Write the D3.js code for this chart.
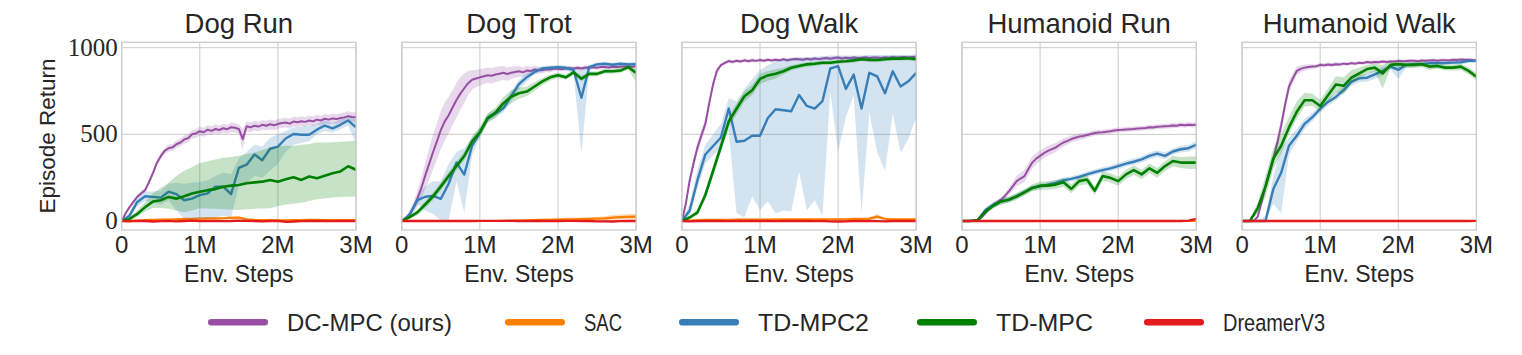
<!DOCTYPE html>
<html><head><meta charset="utf-8">
<script src="https://cdn.jsdelivr.net/npm/d3@7"></script>
<style>body{margin:0;background:#fff} svg{display:block}</style>
</head><body><svg id="c" width="1522" height="355"></svg>
<script>
// ---------------- DATA ----------------
const panels = ["Dog Run","Dog Trot","Dog Walk","Humanoid Run","Humanoid Walk"];
const methods = ["DC-MPC (ours)","SAC","TD-MPC2","TD-MPC","DreamerV3"];
const xTicks = [0,1,2,3];
const xTickLabels = ["0","1M","2M","3M"];
const yTicks = [0,500,1000];
const yTickLabels = ["0","500","1000"];
// env steps (millions)
const stepsCoarse = [0,0.1,0.2,0.3,0.4,0.5,0.6,0.7,0.8,0.9,1.0,1.1,1.2,1.3,1.4,1.5,1.6,1.7,1.8,1.9,2.0,2.1,2.2,2.3,2.4,2.5,2.6,2.7,2.8,2.9,3.0];
const stepsDense = [0,0.05,0.1,0.15,0.2,0.25,0.3,0.35,0.4,0.45,0.5,0.55,0.6,0.65,0.7,0.75,0.8,0.85,0.9,0.95,1.0,1.05,1.1,1.15,1.2,1.25,1.3,1.35,1.4,1.45,1.5,1.55,1.6,1.65,1.7,1.75,1.8,1.85,1.9,1.95,2.0,2.05,2.1,2.15,2.2,2.25,2.3,2.35,2.4,2.45,2.5,2.55,2.6,2.65,2.7,2.75,2.8,2.85,2.9,2.95,3.0];

// DC-MPC (dense)
const dcmpcMean = [
 [0,45,80,110,140,160,178,225,276,335, 374,405,420,425,443,452,470,478,500,505, 518,512,527,520,531,525,535,530,541,538, 531,472,547,540,550,545,555,550,558,552, 560,565,568,562,574,570,576,572,580,575, 585,580,590,585,592,588,594,598,605,600, 598],
 [0,15,41,80,130,190,262,330,397,460, 525,575,610,655,698,735,766,795,815,822, 829,835,841,838,845,850,855,848,855,860, 864,858,868,865,874,870,870,875,874,878, 878,875,880,882,880,884,880,886,884,887, 885,888,888,886,890,888,890,892,893,890, 894],
 [0,100,235,335,425,495,560,680,790,868, 900,912,923,918,925,920,927,922,928,924, 929,925,930,926,931,927,933,928,932,935, 933,930,936,932,938,934,938,940,936,941, 943,938,942,939,944,940,942,945,941,944, 943,940,945,942,946,943,945,947,944,946, 947],
 [0,0,0,0,0,22,45,70,93,108, 123,145,171,200,230,245,259,300,337,360, 376,392,405,415,424,440,453,462,473,480, 487,490,496,502,508,510,512,515,518,522, 525,526,528,530,531,534,535,537,541,540, 544,545,547,548,551,550,555,553,556,554, 555],
 [0,0,0,0,25,110,200,280,356,450, 551,670,775,823,866,878,885,888,891,893, 901,898,903,900,905,903,908,906,911,908, 913,911,917,914,918,916,920,918,921,920, 924,922,923,925,924,922,926,925,926,927, 925,928,928,926,930,929,932,930,931,929, 928]
];
const dcmpcSpread = [
 [0,6,8,10,10,12,12,14,15,16, 18,18,20,20,22,22,24,24,25,25, 26,26,26,25,26,25,26,26,28,28, 28,60,28,28,28,28,28,28,28,28, 28,28,28,28,28,28,28,28,28,28, 28,28,28,28,28,28,28,28,28,28, 28],
 [0,10,20,30,45,60,75,90,100,105, 110,110,105,100,100,95,85,70,55,50, 48,45,45,45,45,42,40,38,35,32, 30,28,26,25,22,20,18,16,15,14, 12,12,12,12,12,12,12,12,12,12, 12,12,12,12,12,12,12,12,12,12, 14],
 [0,15,25,30,30,30,30,30,25,18, 12,10,10,10,10,10,10,10,10,10, 10,10,10,10,10,10,10,10,10,10, 10,10,10,10,10,10,10,10,10,10, 10,10,10,10,10,10,10,10,10,10, 10,10,10,10,10,10,10,10,10,10, 20],
 [0,0,0,0,0,5,8,10,12,14, 16,18,20,25,30,32,35,35,35,32, 30,30,28,28,26,25,24,22,20,20, 18,18,16,16,15,15,15,15,15,15, 14,14,14,14,14,14,14,14,14,14, 14,14,14,14,14,14,14,14,14,14, 14],
 [0,0,0,0,8,20,30,35,40,40, 40,38,35,30,25,20,18,15,14,12, 12,12,12,12,12,10,10,10,10,10, 10,10,10,10,10,10,10,10,10,10, 10,10,10,10,10,10,10,10,10,10, 10,10,10,10,10,10,10,10,10,10, 10]
];

// SAC
const sacMean = [
 [0,2,3,5,6,8,8,10,12,12, 14,15,15,16,18,20,10,6,5,5, 4,4,5,5,6,6,5,5,5,5, 5],
 [0,0,0,0,0,0,0,0,0,0, 0,0,0,1,2,3,4,5,6,7, 8,9,10,11,12,14,15,20,22,24, 25],
 [0,3,5,6,6,7,7,8,8,8, 8,8,9,9,9,10,10,10,10,10, 10,10,12,12,14,25,12,10,10,10, 10],
 [0,0,0,0,0,0,0,0,0,0, 0,0,0,0,0,0,0,0,0,0, 0,0,0,0,0,0,0,0,0,0, 0],
 [0,0,0,0,0,0,0,0,0,0, 0,0,0,0,0,0,0,0,0,0, 0,0,0,0,0,0,0,0,0,0, 0]
];
const sacSpread = [
 [0,2,3,3,4,4,4,5,5,5, 6,6,6,7,8,8,5,4,3,3, 3,3,3,3,3,3,3,3,3,3, 3],
 [0,0,0,0,0,0,0,0,0,0, 1,1,1,2,3,4,5,6,7,8, 9,10,10,10,10,11,12,14,15,16, 16],
 [0,2,2,3,3,3,3,3,3,3, 3,3,3,3,3,4,4,4,4,4, 4,4,4,5,6,15,5,4,4,4, 4],
 [0,0,0,0,0,0,0,0,0,0, 0,0,0,0,0,0,0,0,0,0, 0,0,0,0,0,0,0,0,0,0, 0],
 [0,0,0,0,0,0,0,0,0,0, 0,0,0,0,0,0,0,0,0,0, 0,0,0,0,0,0,0,0,0,0, 0]
];

// TD-MPC2
const tdmpc2Mean = [
 [0,31,110,143,139,135,169,155,120,129, 149,159,198,198,155,306,325,384,351,417, 429,476,502,498,498,527,551,535,555,580, 541],
 [0,35,120,140,145,128,215,337,268,434, 510,590,620,650,720,790,830,860,880,884, 888,884,870,711,888,904,907,902,907,904, 905],
 [0,61,237,384,433,482,649,457,463,492, 492,594,645,639,633,727,664,649,692,880, 894,762,845,649,855,835,737,864,776,806, 855],
 [0,0,5,64,93,113,123,142,167,191, 200,210,220,235,243,255,269,282,294,304, 317,331,342,356,376,389,376,401,414,420, 440],
 [0,0,0,0,185,278,434,492,560,599, 648,687,716,755,804,823,827,846,866,891, 872,901,905,905,911,911,911,914,916,924, 924]
];
const tdmpc2Lo = [
 [0,15,85,115,105,95,120,60,15,10, 15,15,20,30,20,200,220,260,250,290, 330,400,440,450,460,500,520,510,530,550, 450],
 [0,20,95,60,40,5,6,230,50,380, 480,565,600,625,690,760,805,845,868,870, 875,868,850,390,875,892,895,888,895,890, 893],
 [0,30,190,330,380,420,520,45,22,142, 64,113,45,60,55,286,60,120,30,745, 400,600,726,45,628,400,288,619,395,473, 600],
 [0,0,0,45,75,95,108,128,152,176, 186,196,206,220,228,240,254,266,278,288, 300,313,324,338,357,370,358,382,395,400, 420],
 [0,0,0,0,100,45,380,460,530,575, 625,665,695,735,780,800,805,820,840,875, 820,885,890,890,895,898,900,903,905,912, 912]
];
const tdmpc2Hi = [
 [0,50,135,170,170,175,215,220,215,220, 225,235,260,280,270,360,400,440,430,480, 500,520,540,545,550,560,580,565,585,600, 590],
 [0,50,145,200,230,230,330,400,420,480, 545,620,645,680,750,815,855,880,895,898, 900,898,888,870,900,916,918,915,918,916, 918],
 [0,100,300,440,500,560,710,690,760,820, 870,900,920,935,940,945,945,948,950,955, 955,955,955,955,958,958,958,958,958,958, 958],
 [0,0,12,80,110,130,140,158,183,207, 215,225,235,250,258,270,285,298,310,320, 334,349,360,374,395,408,395,420,433,440, 460],
 [0,0,0,30,260,420,480,530,590,625, 670,710,740,780,830,845,850,870,890,905, 895,915,918,918,922,922,922,925,928,935, 935]
];

// TD-MPC
const tdmpcMean = [
 [0,12,41,80,112,120,139,129,143,159, 169,178,184,198,204,208,218,223,227,237, 227,241,253,237,257,247,261,276,286,316, 296],
 [0,22,50,95,142,200,259,317,375,460, 512,595,625,680,717,737,747,776,806,829, 841,829,858,821,849,849,864,864,868,888, 855],
 [0,20,50,150,290,430,575,648,720,755, 820,840,850,864,884,894,904,907,913,913, 919,922,927,933,930,929,933,937,937,939, 933],
 [0,0,5,54,88,113,123,142,165,191, 204,204,210,224,185,230,239,175,259,249, 230,269,294,269,304,278,317,346,337,337, 337],
 [0,0,74,200,360,434,540,630,697,697, 664,726,788,780,827,852,877,885,852,901, 905,901,901,905,891,895,885,885,891,866, 833]
];
const tdmpcLo = [
 [0,5,25,55,75,75,70,60,50,60, 74,72,70,68,66,64,68,70,72,74, 85,95,100,105,115,125,130,135,138,140, 142],
 [0,12,35,75,120,178,235,290,350,430, 485,570,595,645,680,705,720,750,785,810, 825,815,845,805,835,835,850,850,855,875, 800],
 [0,12,35,125,260,400,545,615,690,725, 790,810,822,845,868,880,890,895,900,902, 908,912,915,922,918,916,922,926,926,928, 922],
 [0,0,0,40,72,95,105,122,145,170, 180,180,185,198,160,204,212,150,232,222, 204,242,266,242,276,250,288,316,306,300, 300],
 [0,0,40,140,300,390,500,590,660,665, 630,690,740,735,790,820,850,860,765,880, 885,882,882,888,872,878,868,868,872,846, 810]
];
const tdmpcHi = [
 [0,20,60,110,160,190,220,260,290,310, 335,345,355,365,370,376,385,395,410,424, 430,434,434,440,445,453,453,455,458,460, 463],
 [0,32,65,115,165,222,283,345,400,490, 540,620,655,715,755,770,775,800,825,845, 857,845,870,838,862,862,878,878,882,900, 880],
 [0,30,65,175,320,460,605,680,750,785, 850,865,875,884,900,908,916,920,925,925, 930,932,938,944,942,940,944,948,948,950, 944],
 [0,0,12,68,104,130,141,162,185,212, 228,228,236,250,210,256,266,200,286,276, 256,296,322,296,332,306,346,376,368,372, 372],
 [0,0,110,260,420,500,600,690,740,735, 700,765,835,830,870,885,902,908,900,920, 922,918,918,922,908,912,902,902,908,886, 855]
];

// DreamerV3
const dreamerMean = [
 [0,-2,1,0,-3,-1,1,-2,0,2, 0,1,0,-1,0,2,1,0,-2,0, 1,-4,-3,-1,0,1,0,-1,0,0, -1],
 [0,0,0,0,0,0,0,0,0,0, 1,1,1,1,1,0,0,0,0,0, 0,1,1,0,0,-2,-2,-3,-1,0, 0],
 [0,-2,-1,0,1,0,-1,0,0,1, 0,0,-1,0,1,0,0,-1,0,-2, -3,-2,0,1,0,-1,-2,0,0,1, 0],
 [0,0,0,0,0,0,0,0,0,0, 0,0,0,0,0,0,0,0,0,0, 0,0,0,0,0,0,0,0,0,2, 12],
 [0,0,0,0,0,0,0,0,0,0, 0,0,0,0,0,0,0,0,0,0, 0,0,0,0,0,0,0,0,0,0, 1]
];
const dreamerSpread = [
 [0,3,3,3,3,3,3,3,3,3, 3,3,3,3,3,3,3,3,3,3, 3,3,3,3,3,3,3,3,3,3, 3],
 [0,1,1,1,1,1,1,1,1,1, 1,1,1,1,1,1,1,1,1,1, 1,1,1,1,1,2,2,2,2,2, 2],
 [0,2,2,2,2,2,2,2,2,2, 2,2,2,2,2,2,2,2,2,2, 2,2,2,2,2,2,2,2,2,2, 2],
 [0,0,0,0,0,0,0,0,0,0, 0,0,0,0,0,0,0,0,0,0, 0,0,0,0,0,0,0,0,0,2, 5],
 [0,0,0,0,0,0,0,0,0,0, 0,0,0,0,0,0,0,0,0,0, 0,0,0,0,0,0,0,0,0,0, 1]
];

// ---------------- STYLE ----------------
const colors = ["#984ea3","#ff7f00","#377eb8","#008000","#e41a1c"];
const lineWidths = [2, 2.2, 2.4, 2.6, 2.4];
const bandOpacity = [0.22, 0.28, 0.22, 0.22, 0.25];
const textColor = "#262626";
const gridColor = "#cccccc";

// ---------------- DRAW ----------------
const svg = d3.select("#c");
svg.append("rect").attr("width",1522).attr("height",355).attr("fill","#fff");

const panelBand = d3.scaleBand().domain(panels).range([121.7, 121.7 + 280.1*5]).paddingInner(0).paddingOuter(0);
const pw = 234.3, plotTop = 42.3, plotBottom = 230;

function buildSeries(pi){
  return [
    {x: stepsDense, m: dcmpcMean[pi], lo: dcmpcMean[pi].map((v,i)=>v-dcmpcSpread[pi][i]), hi: dcmpcMean[pi].map((v,i)=>v+dcmpcSpread[pi][i])},
    {x: stepsCoarse, m: sacMean[pi], lo: sacMean[pi].map((v,i)=>v-sacSpread[pi][i]), hi: sacMean[pi].map((v,i)=>v+sacSpread[pi][i])},
    {x: stepsCoarse, m: tdmpc2Mean[pi], lo: tdmpc2Lo[pi], hi: tdmpc2Hi[pi]},
    {x: stepsCoarse, m: tdmpcMean[pi], lo: tdmpcLo[pi], hi: tdmpcHi[pi]},
    {x: stepsCoarse, m: dreamerMean[pi], lo: dreamerMean[pi].map((v,i)=>v-dreamerSpread[pi][i]), hi: dreamerMean[pi].map((v,i)=>v+dreamerSpread[pi][i])}
  ];
}

panels.forEach((name, pi) => {
  const left = panelBand(name);
  const x = d3.scaleLinear().domain([0,3]).range([left, left+pw]);
  const y = d3.scaleLinear().domain([0,1000]).range([221, 47.7]);
  const g = svg.append("g");

  const cid = "clip"+pi;
  svg.append("clipPath").attr("id",cid).append("rect")
    .attr("x",left).attr("y",plotTop).attr("width",pw).attr("height",plotBottom-plotTop);

  // grid
  g.selectAll(".gy").data(yTicks).join("line")
    .attr("x1",left).attr("x2",left+pw)
    .attr("y1",d=>y(d)).attr("y2",d=>y(d))
    .attr("stroke",gridColor).attr("stroke-width",1);
  g.selectAll(".gx").data(xTicks).join("line")
    .attr("x1",d=>x(d)).attr("x2",d=>x(d))
    .attr("y1",plotTop).attr("y2",plotBottom)
    .attr("stroke",gridColor).attr("stroke-width",1);

  const dg = g.append("g").attr("clip-path",`url(#${cid})`);
  const series = buildSeries(pi);
  series.forEach((s, k) => {
    const idx = d3.range(s.x.length);
    const area = d3.area().x(i=>x(s.x[i])).y0(i=>y(s.lo[i])).y1(i=>y(s.hi[i]));
    const line = d3.line().x(i=>x(s.x[i])).y(i=>y(s.m[i]));
    dg.append("path").attr("d",area(idx)).attr("fill",colors[k]).attr("fill-opacity",bandOpacity[k]).attr("stroke","none");
    dg.append("path").attr("d",line(idx)).attr("fill","none").attr("stroke",colors[k])
      .attr("stroke-width",lineWidths[k]).attr("stroke-linejoin","round");
  });

  // frame
  g.append("rect").attr("x",left).attr("y",plotTop).attr("width",pw).attr("height",plotBottom-plotTop)
    .attr("fill","none").attr("stroke",gridColor).attr("stroke-width",1.3);

  // title
  g.append("text").attr("x",left+pw/2).attr("y",33).attr("text-anchor","middle")
    .attr("font-family","'Liberation Sans', Arial, sans-serif").attr("font-size",27.5)
    .attr("fill",textColor).text(name);

  // x tick labels
  g.selectAll(".xt").data(xTicks).join("text")
    .attr("x",d=>x(d)).attr("y",253).attr("text-anchor","middle")
    .attr("font-family","'Liberation Sans', Arial, sans-serif").attr("font-size",24)
    .attr("fill",textColor).text((d,i)=>xTickLabels[i]);

  // x label
  g.append("text").attr("x",left+pw/2).attr("y",282).attr("text-anchor","middle")
    .attr("font-family","'Liberation Sans', Arial, sans-serif").attr("font-size",23)
    .attr("fill",textColor).text("Env. Steps");

  if (pi === 0) {
    g.selectAll(".yt").data(yTicks).join("text")
      .attr("x",left-4).attr("y",d=>y(d)+8).attr("text-anchor","end")
      .attr("font-family","'Liberation Serif', 'DejaVu Serif', serif").attr("font-size",25)
      .attr("fill",textColor).text((d,i)=>yTickLabels[i]);
    g.append("text").attr("transform",`translate(55,136) rotate(-90)`).attr("text-anchor","middle")
      .attr("font-family","'Liberation Sans', Arial, sans-serif").attr("font-size",22.5)
      .attr("fill",textColor).text("Episode Return");
  }
});

// legend
const legendLineX = [208, 505, 679, 917, 1144];
const legendTextLen = [165, 38, 111, 97, 102];
const lg = svg.append("g");
methods.forEach((m,k) => {
  const x0 = legendLineX[k];
  lg.append("line").attr("x1",x0+3.3).attr("x2",x0+60-3.3).attr("y1",322.3).attr("y2",322.3)
    .attr("stroke",colors[k]).attr("stroke-width",6.6).attr("stroke-linecap","round");
  lg.append("text").attr("x",x0+79).attr("y",331)
    .attr("font-family","'Liberation Sans Narrow', 'Liberation Sans', Arial, sans-serif").attr("font-size",24.5)
    .attr("textLength",legendTextLen[k]).attr("lengthAdjust","spacingAndGlyphs")
    .attr("fill",textColor).text(m);
});
</script>
</body></html>
